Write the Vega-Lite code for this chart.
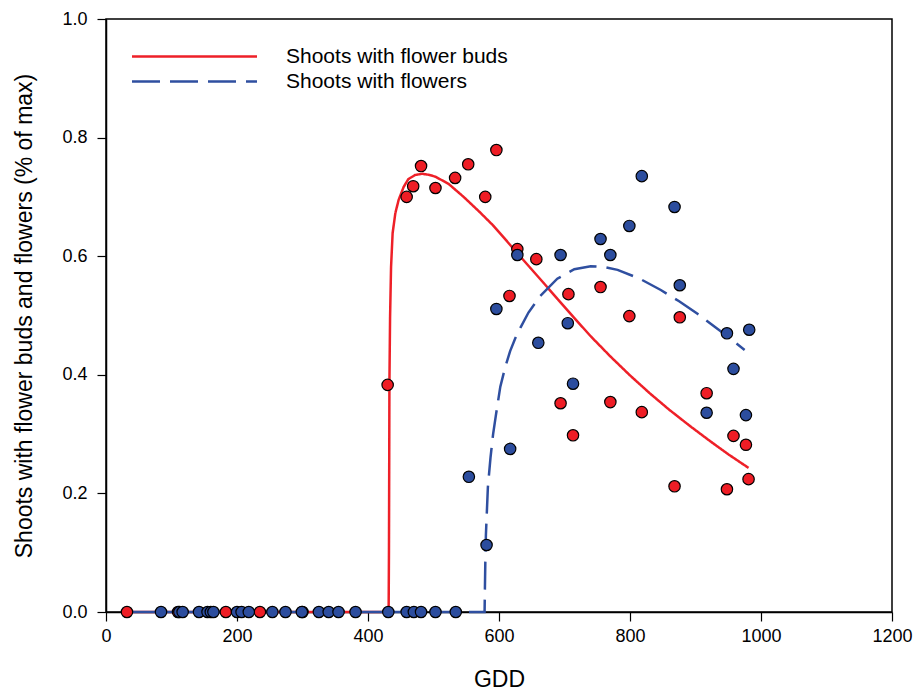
{
  "$schema": "https://vega.github.io/schema/vega-lite/v6.json",
  "width": 786,
  "height": 593,
  "autosize": {"type": "none"},
  "padding": {"left": 106, "top": 19, "right": 24, "bottom": 80},
  "background": "white",
  "config": {
    "font": "Liberation Sans",
    "view": {"stroke": "black", "strokeWidth": 1.5},
    "axis": {"grid": false, "domainColor": "black", "domainWidth": 1.5, "tickColor": "black", "tickWidth": 1.2, "tickSize": 9, "labelFont": "Liberation Sans", "titleFont": "Liberation Sans", "labelColor": "black", "titleColor": "black", "titleFontWeight": "normal"}
  },
  "datasets": {
    "curves": [
      {"gdd": 32, "v": 0, "series": "Shoots with flower buds"},
      {"gdd": 431.5, "v": 0, "series": "Shoots with flower buds"},
      {"gdd": 432, "v": 0.1, "series": "Shoots with flower buds"},
      {"gdd": 432.4, "v": 0.25, "series": "Shoots with flower buds"},
      {"gdd": 432.7, "v": 0.386, "series": "Shoots with flower buds"},
      {"gdd": 433.7, "v": 0.497, "series": "Shoots with flower buds"},
      {"gdd": 435.2, "v": 0.582, "series": "Shoots with flower buds"},
      {"gdd": 437.6, "v": 0.639, "series": "Shoots with flower buds"},
      {"gdd": 441.8, "v": 0.673, "series": "Shoots with flower buds"},
      {"gdd": 446.8, "v": 0.695, "series": "Shoots with flower buds"},
      {"gdd": 454.5, "v": 0.717, "series": "Shoots with flower buds"},
      {"gdd": 461.6, "v": 0.73, "series": "Shoots with flower buds"},
      {"gdd": 472, "v": 0.737, "series": "Shoots with flower buds"},
      {"gdd": 483, "v": 0.739, "series": "Shoots with flower buds"},
      {"gdd": 494, "v": 0.737, "series": "Shoots with flower buds"},
      {"gdd": 503, "v": 0.734, "series": "Shoots with flower buds"},
      {"gdd": 523, "v": 0.722, "series": "Shoots with flower buds"},
      {"gdd": 546, "v": 0.7, "series": "Shoots with flower buds"},
      {"gdd": 570, "v": 0.675, "series": "Shoots with flower buds"},
      {"gdd": 590, "v": 0.653, "series": "Shoots with flower buds"},
      {"gdd": 610, "v": 0.628, "series": "Shoots with flower buds"},
      {"gdd": 628, "v": 0.605, "series": "Shoots with flower buds"},
      {"gdd": 648, "v": 0.58, "series": "Shoots with flower buds"},
      {"gdd": 668, "v": 0.555, "series": "Shoots with flower buds"},
      {"gdd": 690, "v": 0.527, "series": "Shoots with flower buds"},
      {"gdd": 714, "v": 0.497, "series": "Shoots with flower buds"},
      {"gdd": 740, "v": 0.465, "series": "Shoots with flower buds"},
      {"gdd": 770, "v": 0.431, "series": "Shoots with flower buds"},
      {"gdd": 800, "v": 0.399, "series": "Shoots with flower buds"},
      {"gdd": 830, "v": 0.369, "series": "Shoots with flower buds"},
      {"gdd": 860, "v": 0.341, "series": "Shoots with flower buds"},
      {"gdd": 890, "v": 0.315, "series": "Shoots with flower buds"},
      {"gdd": 920, "v": 0.29, "series": "Shoots with flower buds"},
      {"gdd": 950, "v": 0.266, "series": "Shoots with flower buds"},
      {"gdd": 981, "v": 0.243, "series": "Shoots with flower buds"},
      {"gdd": 32, "v": 0, "series": "Shoots with flowers"},
      {"gdd": 578, "v": 0, "series": "Shoots with flowers"},
      {"gdd": 578.5, "v": 0.04, "series": "Shoots with flowers"},
      {"gdd": 579.2, "v": 0.09, "series": "Shoots with flowers"},
      {"gdd": 580, "v": 0.13, "series": "Shoots with flowers"},
      {"gdd": 581.5, "v": 0.17, "series": "Shoots with flowers"},
      {"gdd": 583, "v": 0.21, "series": "Shoots with flowers"},
      {"gdd": 587, "v": 0.26, "series": "Shoots with flowers"},
      {"gdd": 591, "v": 0.3, "series": "Shoots with flowers"},
      {"gdd": 595, "v": 0.33, "series": "Shoots with flowers"},
      {"gdd": 602, "v": 0.38, "series": "Shoots with flowers"},
      {"gdd": 610, "v": 0.415, "series": "Shoots with flowers"},
      {"gdd": 617, "v": 0.44, "series": "Shoots with flowers"},
      {"gdd": 625, "v": 0.462, "series": "Shoots with flowers"},
      {"gdd": 633, "v": 0.48, "series": "Shoots with flowers"},
      {"gdd": 645, "v": 0.505, "series": "Shoots with flowers"},
      {"gdd": 663, "v": 0.533, "series": "Shoots with flowers"},
      {"gdd": 689, "v": 0.562, "series": "Shoots with flowers"},
      {"gdd": 715, "v": 0.578, "series": "Shoots with flowers"},
      {"gdd": 740, "v": 0.583, "series": "Shoots with flowers"},
      {"gdd": 760, "v": 0.582, "series": "Shoots with flowers"},
      {"gdd": 781, "v": 0.577, "series": "Shoots with flowers"},
      {"gdd": 815, "v": 0.562, "series": "Shoots with flowers"},
      {"gdd": 847, "v": 0.543, "series": "Shoots with flowers"},
      {"gdd": 875, "v": 0.524, "series": "Shoots with flowers"},
      {"gdd": 903, "v": 0.503, "series": "Shoots with flowers"},
      {"gdd": 940, "v": 0.472, "series": "Shoots with flowers"},
      {"gdd": 975, "v": 0.442, "series": "Shoots with flowers"}
    ],
    "points": [
      {"gdd": 32, "v": 0, "series": "Shoots with flower buds"},
      {"gdd": 110, "v": 0, "series": "Shoots with flower buds"},
      {"gdd": 183, "v": 0, "series": "Shoots with flower buds"},
      {"gdd": 235, "v": 0, "series": "Shoots with flower buds"},
      {"gdd": 300, "v": 0, "series": "Shoots with flower buds"},
      {"gdd": 430, "v": 0.383, "series": "Shoots with flower buds"},
      {"gdd": 459, "v": 0.7, "series": "Shoots with flower buds"},
      {"gdd": 469, "v": 0.718, "series": "Shoots with flower buds"},
      {"gdd": 481, "v": 0.752, "series": "Shoots with flower buds"},
      {"gdd": 503, "v": 0.715, "series": "Shoots with flower buds"},
      {"gdd": 533, "v": 0.732, "series": "Shoots with flower buds"},
      {"gdd": 553, "v": 0.755, "series": "Shoots with flower buds"},
      {"gdd": 579, "v": 0.7, "series": "Shoots with flower buds"},
      {"gdd": 596, "v": 0.779, "series": "Shoots with flower buds"},
      {"gdd": 616, "v": 0.533, "series": "Shoots with flower buds"},
      {"gdd": 628, "v": 0.612, "series": "Shoots with flower buds"},
      {"gdd": 657, "v": 0.595, "series": "Shoots with flower buds"},
      {"gdd": 694, "v": 0.352, "series": "Shoots with flower buds"},
      {"gdd": 706, "v": 0.536, "series": "Shoots with flower buds"},
      {"gdd": 713, "v": 0.298, "series": "Shoots with flower buds"},
      {"gdd": 755, "v": 0.548, "series": "Shoots with flower buds"},
      {"gdd": 770, "v": 0.354, "series": "Shoots with flower buds"},
      {"gdd": 799, "v": 0.499, "series": "Shoots with flower buds"},
      {"gdd": 818, "v": 0.337, "series": "Shoots with flower buds"},
      {"gdd": 868, "v": 0.212, "series": "Shoots with flower buds"},
      {"gdd": 876, "v": 0.497, "series": "Shoots with flower buds"},
      {"gdd": 917, "v": 0.369, "series": "Shoots with flower buds"},
      {"gdd": 948, "v": 0.207, "series": "Shoots with flower buds"},
      {"gdd": 958, "v": 0.297, "series": "Shoots with flower buds"},
      {"gdd": 977, "v": 0.282, "series": "Shoots with flower buds"},
      {"gdd": 981, "v": 0.224, "series": "Shoots with flower buds"},
      {"gdd": 84, "v": 0, "series": "Shoots with flowers"},
      {"gdd": 112, "v": 0, "series": "Shoots with flowers"},
      {"gdd": 117, "v": 0, "series": "Shoots with flowers"},
      {"gdd": 142, "v": 0, "series": "Shoots with flowers"},
      {"gdd": 155, "v": 0, "series": "Shoots with flowers"},
      {"gdd": 160, "v": 0, "series": "Shoots with flowers"},
      {"gdd": 164, "v": 0, "series": "Shoots with flowers"},
      {"gdd": 200, "v": 0, "series": "Shoots with flowers"},
      {"gdd": 207, "v": 0, "series": "Shoots with flowers"},
      {"gdd": 218, "v": 0, "series": "Shoots with flowers"},
      {"gdd": 254, "v": 0, "series": "Shoots with flowers"},
      {"gdd": 274, "v": 0, "series": "Shoots with flowers"},
      {"gdd": 299, "v": 0, "series": "Shoots with flowers"},
      {"gdd": 325, "v": 0, "series": "Shoots with flowers"},
      {"gdd": 340, "v": 0, "series": "Shoots with flowers"},
      {"gdd": 355, "v": 0, "series": "Shoots with flowers"},
      {"gdd": 381, "v": 0, "series": "Shoots with flowers"},
      {"gdd": 431, "v": 0, "series": "Shoots with flowers"},
      {"gdd": 459, "v": 0, "series": "Shoots with flowers"},
      {"gdd": 470, "v": 0, "series": "Shoots with flowers"},
      {"gdd": 481, "v": 0, "series": "Shoots with flowers"},
      {"gdd": 503, "v": 0, "series": "Shoots with flowers"},
      {"gdd": 534, "v": 0, "series": "Shoots with flowers"},
      {"gdd": 554, "v": 0.228, "series": "Shoots with flowers"},
      {"gdd": 581, "v": 0.113, "series": "Shoots with flowers"},
      {"gdd": 596, "v": 0.511, "series": "Shoots with flowers"},
      {"gdd": 617, "v": 0.275, "series": "Shoots with flowers"},
      {"gdd": 628, "v": 0.602, "series": "Shoots with flowers"},
      {"gdd": 660, "v": 0.454, "series": "Shoots with flowers"},
      {"gdd": 694, "v": 0.602, "series": "Shoots with flowers"},
      {"gdd": 705, "v": 0.487, "series": "Shoots with flowers"},
      {"gdd": 713, "v": 0.385, "series": "Shoots with flowers"},
      {"gdd": 755, "v": 0.629, "series": "Shoots with flowers"},
      {"gdd": 770, "v": 0.602, "series": "Shoots with flowers"},
      {"gdd": 799, "v": 0.651, "series": "Shoots with flowers"},
      {"gdd": 818, "v": 0.735, "series": "Shoots with flowers"},
      {"gdd": 868, "v": 0.683, "series": "Shoots with flowers"},
      {"gdd": 876, "v": 0.551, "series": "Shoots with flowers"},
      {"gdd": 917, "v": 0.336, "series": "Shoots with flowers"},
      {"gdd": 948, "v": 0.47, "series": "Shoots with flowers"},
      {"gdd": 958, "v": 0.41, "series": "Shoots with flowers"},
      {"gdd": 977, "v": 0.332, "series": "Shoots with flowers"},
      {"gdd": 982, "v": 0.476, "series": "Shoots with flowers"}
    ]
  },
  "encoding": {
    "x": {"field": "gdd", "type": "quantitative", "scale": {"domain": [0, 1200], "nice": false, "zero": false},
      "axis": {"title": "GDD", "values": [0, 200, 400, 600, 800, 1000, 1200], "format": "d", "labelFontSize": 18, "titleFontSize": 23, "labelPadding": 6, "titlePadding": 23, "labelFlush": false}},
    "y": {"field": "v", "type": "quantitative", "scale": {"domain": [0, 1], "nice": false},
      "axis": {"title": "Shoots with flower buds and flowers (% of max)", "values": [0, 0.2, 0.4, 0.6, 0.8, 1.0], "format": ".1f", "labelFontSize": 18, "titleFontSize": 23, "labelPadding": 10, "titlePadding": 25, "labelFlush": false}}
  },
  "layer": [
    {
      "data": {"name": "curves"},
      "mark": {"type": "line", "strokeWidth": 2.5, "interpolate": "linear"},
      "encoding": {
        "color": {"field": "series", "type": "nominal",
          "scale": {"domain": ["Shoots with flower buds", "Shoots with flowers"], "range": ["#EE2028", "#2F4FA0"]},
          "legend": {"title": null, "orient": "none", "legendX": 77, "legendY": 26, "symbolType": "M-6.25,0H6.25", "symbolSize": 400, "symbolStrokeWidth": 2.5, "labelFontSize": 21, "labelLimit": 500, "labelOffset": 80, "labelColor": "black", "rowPadding": 3, "padding": 0}},
        "strokeDash": {"field": "series", "type": "nominal",
          "scale": {"domain": ["Shoots with flower buds", "Shoots with flowers"], "range": [[1, 0], [28, 10]]},
          "legend": {"title": null, "orient": "none", "legendX": 77, "legendY": 26, "symbolType": "M-6.25,0H6.25", "symbolSize": 400, "symbolStrokeWidth": 2.5, "labelFontSize": 21, "labelLimit": 500, "labelOffset": 80, "labelColor": "black", "rowPadding": 3, "padding": 0}}
      }
    },
    {
      "data": {"name": "points"},
      "mark": {"type": "point", "filled": true, "size": 130, "stroke": "black", "strokeWidth": 1.2, "opacity": 1, "shape": "circle"},
      "encoding": {
        "fill": {"field": "series", "type": "nominal",
          "scale": {"domain": ["Shoots with flower buds", "Shoots with flowers"], "range": ["#EE1D25", "#2C4D9E"]},
          "legend": null}
      }
    }
  ]
}
